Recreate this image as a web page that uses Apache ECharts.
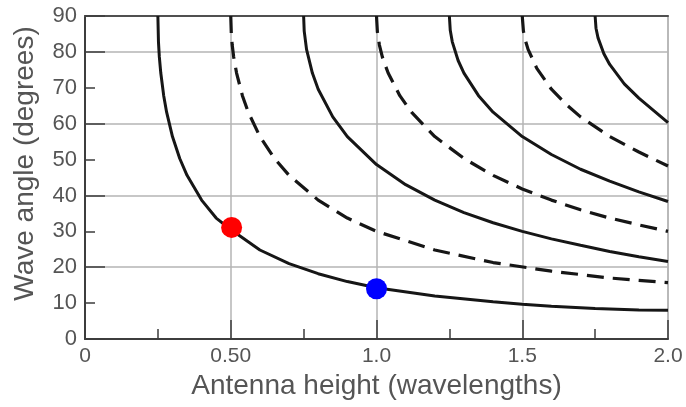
<!DOCTYPE html>
<html>
<head>
<meta charset="utf-8">
<script src="https://cdn.jsdelivr.net/npm/echarts@6/dist/echarts.min.js"></script>
<style>
html,body{margin:0;padding:0;background:#fff;}
#chart{width:686px;height:407px;}
</style>
</head>
<body>
<div id="chart"></div>
<script>
// ---- data ----
const xTickValues = [0, 0.5, 1.0, 1.5, 2.0];
const xTickLabels = ['0', '0.50', '1.0', '1.5', '2.0'];
const yTickValues = [0, 10, 20, 30, 40, 50, 60, 70, 80, 90];
const yTickLabels = ['0', '10', '20', '30', '40', '50', '60', '70', '80', '90'];

// solid curves (lobe maxima)
const solid1 = [[0.25,90],[0.252,82.8],[0.255,78.6],[0.26,74.1],[0.27,67.8],[0.28,63.2],[0.30,56.4],[0.325,50.3],[0.35,45.6],[0.40,38.7],[0.45,33.7],[0.50,30.5],[0.60,24.8],[0.70,21.0],[0.80,18.2],[0.90,16.0],[1.0,14.3],[1.2,12.0],[1.4,10.4],[1.5,9.7],[1.6,9.1],[1.75,8.5],[1.9,8.1],[2.0,8.0]];
const solid2 = [[0.75,90],[0.752,85.8],[0.76,80.7],[0.78,74.1],[0.80,69.6],[0.85,61.9],[0.90,56.4],[1.0,48.6],[1.1,43.0],[1.2,38.7],[1.3,35.2],[1.4,32.4],[1.5,30.0],[1.6,27.9],[1.7,26.1],[1.8,24.4],[1.9,22.9],[2.0,21.6]];
const solid3 = [[1.25,90],[1.253,86.0],[1.26,82.8],[1.28,77.6],[1.30,74.1],[1.35,67.8],[1.4,63.2],[1.5,56.4],[1.6,51.4],[1.7,47.3],[1.8,44.0],[1.9,41.0],[2.0,38.3]];
const solid4 = [[1.75,90],[1.753,86.6],[1.76,83.9],[1.78,79.5],[1.8,76.5],[1.85,71.1],[1.9,67.1],[1.95,63.7],[2.0,60.3]];
// dashed curves (nulls)
const dashed1 = [[0.5,90],[0.502,84.9],[0.505,81.9],[0.51,78.6],[0.52,74.1],[0.54,67.8],[0.56,63.2],[0.60,56.4],[0.65,50.3],[0.70,45.6],[0.80,38.7],[0.90,33.7],[1.0,30.0],[1.2,24.8],[1.4,21.3],[1.6,18.9],[1.8,17.0],[2.0,15.7]];
const dashed2 = [[1.0,90],[1.003,85.6],[1.01,81.9],[1.02,78.6],[1.04,74.1],[1.08,67.8],[1.12,63.2],[1.2,56.4],[1.3,50.3],[1.4,45.6],[1.5,41.8],[1.6,38.7],[1.7,36.0],[1.8,33.7],[1.9,31.8],[2.0,30.0]];
const dashed3 = [[1.5,90],[1.504,85.8],[1.51,83.4],[1.52,80.7],[1.55,75.4],[1.6,69.6],[1.65,65.4],[1.7,61.9],[1.8,56.4],[1.9,52.1],[2.0,48.2]];
// marker dots
const redDot = [[0.503, 31.1]];
const blueDot = [[1.0, 14.0]];

const solidCurves = [solid1, solid2, solid3, solid4];
const dashedCurves = [dashed1, dashed2, dashed3];

// ---- chart ----
const FONT = 'Liberation Sans, Arial, Helvetica, sans-serif';
const TEXT = '#555';
const AX = '#3d3d3d';
const GRIDC = '#b4b4b4';

function xLabel(v) {
  const i = xTickValues.findIndex(t => Math.abs(t - v) < 1e-9);
  return i >= 0 ? xTickLabels[i] : '';
}
function yLabel(v) {
  const i = yTickValues.findIndex(t => Math.abs(t - v) < 1e-9);
  return i >= 0 ? yTickLabels[i] : '';
}

const series = [];
solidCurves.forEach(d => series.push({
  type: 'line', data: d, xAxisIndex: 0, yAxisIndex: 0,
  showSymbol: false, symbol: 'none', silent: true, z: 3,
  lineStyle: { color: '#161616', width: 3, type: 'solid' }
}));
dashedCurves.forEach(d => series.push({
  type: 'line', data: d, xAxisIndex: 0, yAxisIndex: 0,
  showSymbol: false, symbol: 'none', silent: true, z: 3,
  lineStyle: { color: '#161616', width: 3.2, type: [17, 9] }
}));
series.push({ type: 'scatter', data: redDot, symbolSize: 21, itemStyle: { color: '#ff0000', opacity: 1 }, z: 5, silent: true });
series.push({ type: 'scatter', data: blueDot, symbolSize: 21, itemStyle: { color: '#0000ff', opacity: 1 }, z: 5, silent: true });

const option = {
  animation: false,
  textStyle: { fontFamily: FONT },
  grid: { left: 85, right: 18, top: 16, bottom: 68, show: true, borderColor: GRIDC, borderWidth: 1.5, backgroundColor: 'transparent' },
  xAxis: [
    {
      type: 'value', min: 0, max: 2, interval: 0.25, position: 'bottom',
      axisLine: { show: true, lineStyle: { color: AX, width: 2 } },
      axisTick: { show: true, inside: true, length: 10, lineStyle: { color: AX, width: 1.5 } },
      splitLine: { show: false },
      axisLabel: { formatter: xLabel, fontSize: 21, color: TEXT, margin: 7, fontFamily: FONT },
      name: 'Antenna height (wavelengths)', nameLocation: 'middle', nameGap: 32,
      nameTextStyle: { fontSize: 28, color: TEXT, fontFamily: FONT }
    },
    {
      type: 'value', min: 0, max: 2, interval: 0.5, position: 'bottom',
      axisLine: { show: false },
      axisTick: { show: true, inside: true, length: 19, lineStyle: { color: AX, width: 1.5 } },
      axisLabel: { show: false },
      splitLine: { show: true, lineStyle: { color: GRIDC, width: 1.5 } }
    },
    {
      type: 'value', min: 0, max: 2, position: 'top',
      axisLine: { show: true, lineStyle: { color: '#505050', width: 2 } },
      axisTick: { show: false }, axisLabel: { show: false }, splitLine: { show: false }
    }
  ],
  yAxis: [
    {
      type: 'value', min: 0, max: 90, interval: 10, position: 'left',
      axisLine: { show: true, lineStyle: { color: AX, width: 2 } },
      axisTick: { show: true, inside: true, length: 10, lineStyle: { color: AX, width: 1.5 } },
      splitLine: { show: false },
      axisLabel: { formatter: yLabel, fontSize: 22, color: TEXT, margin: 8, fontFamily: FONT },
      name: 'Wave angle (degrees)', nameLocation: 'middle', nameGap: 46,
      nameTextStyle: { fontSize: 28, color: TEXT, fontFamily: FONT, padding: [0, 0, 0, 28] }
    },
    {
      type: 'value', min: 0, max: 90, interval: 20, position: 'left',
      axisLine: { show: false },
      axisTick: { show: true, inside: true, length: 20, lineStyle: { color: AX, width: 1.5 } },
      axisLabel: { show: false },
      splitLine: { show: true, lineStyle: { color: GRIDC, width: 1.5 } }
    }
  ],
  series: series
};

const chart = echarts.init(document.getElementById('chart'), null, { renderer: 'canvas' });
chart.setOption(option);
</script>
</body>
</html>
